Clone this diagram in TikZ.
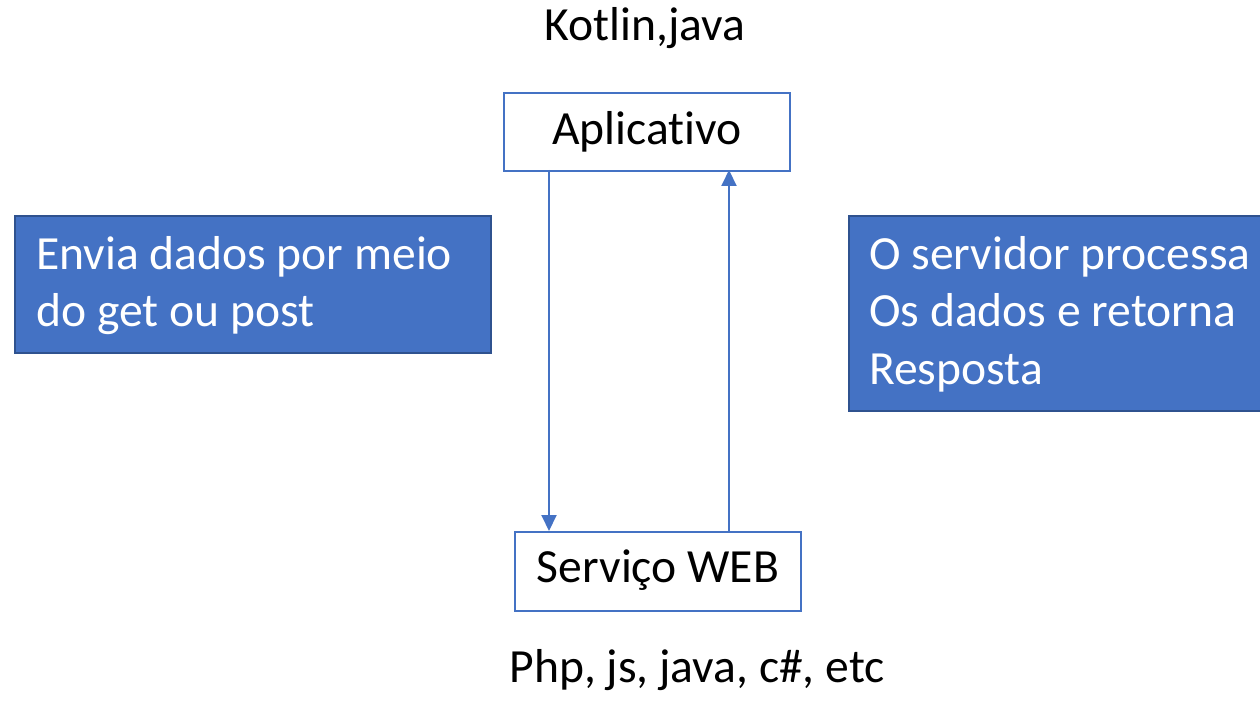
\documentclass[tikz,border=0pt]{standalone}
\usepackage{fontspec}
\setmainfont{Carlito}[Ligatures=NoCommon, RawFeature={-liga;-dlig}]
\usetikzlibrary{arrows.meta}
\definecolor{officeblue}{HTML}{4472C4}
\definecolor{officeedge}{HTML}{2F528F}
\tikzset{
  x=1pt, y=1pt,
  bigtext/.style={font=\fontsize{47.6}{57.5}\selectfont, inner sep=0pt},
  whitebox/.style={draw=officeblue, line width=2pt, fill=white, inner sep=0pt},
  bluebox/.style={draw=officeedge, line width=2pt, fill=officeblue, inner sep=0pt},
  flow/.style={draw=officeblue, line width=2pt, -{Triangle[width=15pt,length=16pt]}},
}
\begin{document}
\begin{tikzpicture}
\useasboundingbox (0,0) rectangle (1260,702);
\clip (0,0) rectangle (1260,702);

% labels above and below
\node[bigtext, anchor=base] (kotlin) at (645,661) {Kotlin,java};
\node[bigtext, anchor=base] (langs) at (697,20) {Php, js, java, c\#, etc};

% app and web service boxes
\node[whitebox, minimum width=286, minimum height=78, anchor=north west] (app) at (503,610) {};
\node[bigtext, anchor=base] (apptxt) at (app.center |- 0,557) {Aplicativo};
\node[whitebox, minimum width=286, minimum height=79, anchor=north west] (web) at (514,171) {};
\node[bigtext, anchor=base] (webtxt) at (web.center |- 0,120) {Serviço WEB};

% request and response connectors
\coordinate (reqtop) at (549,532);
\coordinate (reqbot) at (549,171);
\coordinate (resbot) at (729,171);
\coordinate (restop) at (729,532);
\draw[flow] (reqtop) -- (reqbot);
\draw[flow] (resbot) -- (restop);

% explanation boxes
\node[bluebox, minimum width=476, minimum height=137, anchor=north west] (req) at (14,487) {};
\node[bigtext, text=white, anchor=base west] (req1) at (36,432) {Envia dados por meio};
\node[bigtext, text=white, anchor=base west] (req2) at (36,375) {do get ou post};

\node[bluebox, minimum width=430, minimum height=195, anchor=north west] (res) at (848,487) {};
\node[bigtext, text=white, anchor=base west] (res1) at (869,432) {O servidor processa};
\node[bigtext, text=white, anchor=base west] (res2) at (869,375) {Os dados e retorna};
\node[bigtext, text=white, anchor=base west] (res3) at (869,317) {Resposta};
\end{tikzpicture}
\end{document}
